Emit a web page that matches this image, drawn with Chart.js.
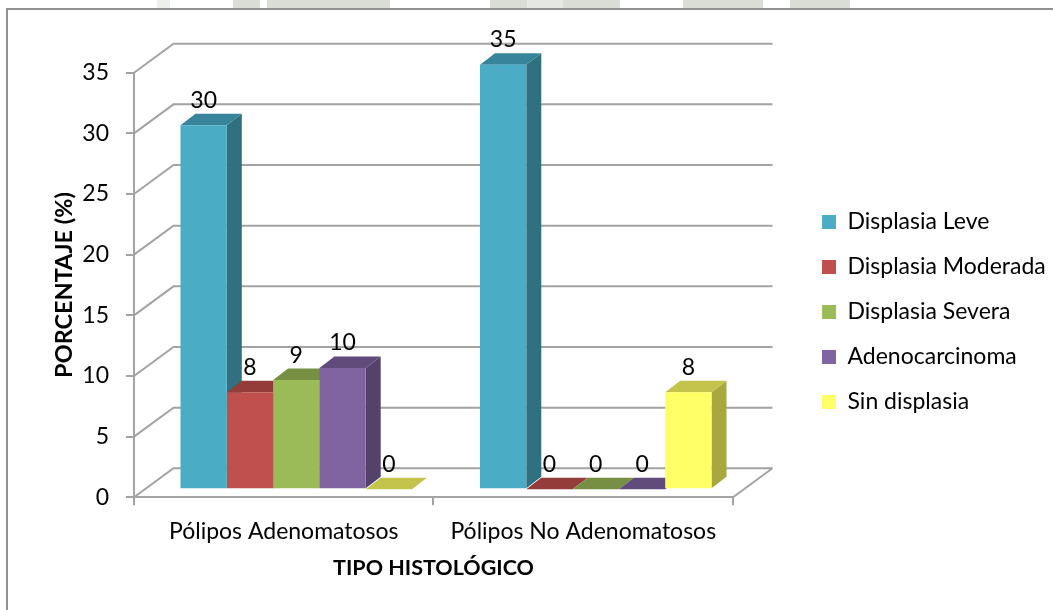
<!DOCTYPE html>
<html>
<head>
<meta charset="utf-8">
<script src="https://cdn.jsdelivr.net/npm/chart.js@4"></script>
<style>
  html, body { margin: 0; background: #fff; }
  #wrap { position: relative; width: 1053px; height: 610px; overflow: hidden; }
  #franja { position: absolute; left: 0; top: 0; width: 1053px; height: 8px;
    background: linear-gradient(90deg, #fff 157px, #eef0ec 157px, #eef0ec 170px, #fff 170px,
      #fff 233px, #d9ddd5 233px, #d9ddd5 260px, #fff 260px, #fff 267px, #d9ddd5 267px, #d9ddd5 390px, #fff 390px,
      #fff 490px, #d9ddd5 490px, #d9ddd5 527px, #e6e9e3 527px, #e6e9e3 563px, #d9ddd5 563px, #d9ddd5 620px, #fff 620px,
      #fff 683px, #d9ddd5 683px, #d9ddd5 763px, #fff 763px, #fff 790px, #d9ddd5 790px, #d9ddd5 850px, #fff 850px); }
  #marco { position: absolute; left: 6px; top: 8px; width: 1047px; height: 602px;
    border-left: 2px solid #929292; border-top: 2px solid #929292; box-sizing: border-box; }
  #chart-grafico-1 { position: absolute; left: 0; top: 0; }
</style>
</head>
<body>
<div id="wrap">
  <div id="franja"></div>
  <div id="marco"></div>
  <canvas id="chart-grafico-1" width="1053" height="610"></canvas>
</div>
<script>
const categorias = ['Pólipos Adenomatosos', 'Pólipos No Adenomatosos'];
const leve = [30, 35];
const moderada = [8, 0];
const severa = [9, 0];
const adenocarcinoma = [10, 0];
const sinDisplasia = [0, 8];

const gris = '#a3a3a3';
const fuente = 'Lato, "Open Sans", sans-serif';

// desplazamientos de la perspectiva, en pixeles
const fondo = { x: 39.5, y: -29 };
const frente = { x: 12.5, y: -8 };
const prof = { x: 15, y: -11.5 };

const serie = (label, data, color, tapa, lado) => ({
  label, data,
  backgroundColor: color,
  tapa, lado,
  borderWidth: 0,
  clip: false,
});

// dibuja paredes y piso por detras de las barras
const paredes = {
  id: 'paredes',
  beforeDatasetsDraw(chart) {
    const { ctx, chartArea: a, scales: { y } } = chart;
    ctx.save();
    ctx.strokeStyle = gris;
    ctx.lineWidth = 2;
    ctx.beginPath();
    y.ticks.forEach(t => {
      const py = y.getPixelForValue(t.value);
      ctx.moveTo(a.left, py);
      ctx.lineTo(a.left + fondo.x, py + fondo.y);
      ctx.lineTo(a.right + fondo.x, py + fondo.y);
    });
    ctx.moveTo(a.right, a.bottom);
    ctx.lineTo(a.right + fondo.x, a.bottom + fondo.y);
    ctx.stroke();
    ctx.restore();
  },
};

// caras de arriba y lateral primero, de izquierda a derecha; la cara frontal la pone Chart.js
const barras3d = {
  id: 'barras3d',
  beforeDatasetsDraw(chart) {
    const { ctx } = chart;
    ctx.save();
    ctx.translate(frente.x, frente.y);
    chart.data.datasets.forEach((ds, i) => {
      chart.getDatasetMeta(i).data.forEach(bar => {
        const izq = bar.x - bar.width / 2;
        const der = bar.x + bar.width / 2;
        ctx.fillStyle = ds.lado;
        ctx.beginPath();
        ctx.moveTo(der, bar.y);
        ctx.lineTo(der + prof.x, bar.y + prof.y);
        ctx.lineTo(der + prof.x, bar.base + prof.y);
        ctx.lineTo(der, bar.base);
        ctx.fill();
        ctx.fillStyle = ds.tapa;
        ctx.beginPath();
        ctx.moveTo(izq, bar.y);
        ctx.lineTo(izq + prof.x, bar.y + prof.y);
        ctx.lineTo(der + prof.x, bar.y + prof.y);
        ctx.lineTo(der, bar.y);
        ctx.fill();
      });
    });
    ctx.restore();
  },
  beforeDatasetDraw(chart) {
    chart.ctx.save();
    chart.ctx.translate(frente.x, frente.y);
  },
  afterDatasetDraw(chart) {
    chart.ctx.restore();
  },
  afterDraw(chart) {
    const { ctx } = chart;
    ctx.save();
    ctx.fillStyle = '#000';
    ctx.font = '23px ' + fuente;
    ctx.textAlign = 'center';
    ctx.textBaseline = 'alphabetic';
    chart.data.datasets.forEach((ds, i) => {
      chart.getDatasetMeta(i).data.forEach((bar, j) => {
        ctx.fillText(ds.data[j], bar.x + frente.x, bar.y + frente.y + prof.y - 6);
      });
    });
    ctx.restore();
  },
};

// la leyenda queda separada del grafico, en su lugar fijo
const leyenda = {
  id: 'leyenda',
  afterLayout(chart) {
    const l = chart.legend;
    l.left = 800;
    l.right = 1053;
    l.top = 188.5;
    l.bottom = 610;
  },
};

new Chart(document.getElementById('chart-grafico-1'), {
  type: 'bar',
  data: {
    labels: categorias,
    datasets: [
      serie('Displasia Leve', leve, '#4bacc6', '#37849b', '#31707f'),
      serie('Displasia Moderada', moderada, '#c0504d', '#943c3a', '#7f3533'),
      serie('Displasia Severa', severa, '#9bbb59', '#768f43', '#66803a'),
      serie('Adenocarcinoma', adenocarcinoma, '#8064a2', '#614b7b', '#54426b'),
      serie('Sin displasia', sinDisplasia, '#ffff66', '#c4c44d', '#a8a83f'),
    ],
  },
  options: {
    responsive: false,
    animation: false,
    events: [],
    layout: { padding: { left: 30, top: 72.7, right: 85.67, bottom: 0 } },
    datasets: { bar: { categoryPercentage: 0.773, barPercentage: 1 } },
    scales: {
      x: {
        afterFit(s) { s.height = 112.7; },
        grid: { offset: true, drawOnChartArea: false, color: gris, lineWidth: 2, tickLength: 8 },
        border: { color: gris, width: 2 },
        ticks: { color: '#000', font: { family: fuente, size: 23 }, maxRotation: 0, padding: 12 },
        title: { display: true, text: 'TIPO HISTOLÓGICO', color: '#000', font: { family: fuente, size: 21.5, weight: 'bold' }, padding: { top: 0, bottom: 29 } },
      },
      y: {
        min: 0, max: 35,
        afterFit(s) { s.width = 104; },
        grid: { drawOnChartArea: false, color: gris, lineWidth: 2, tickLength: 8 },
        border: { color: gris, width: 2 },
        ticks: { stepSize: 5, color: '#000', font: { family: fuente, size: 23 }, padding: 17 },
        title: { display: true, text: 'PORCENTAJE (%)', color: '#000', font: { family: fuente, size: 23.5, weight: 'bold' }, padding: { top: 20, bottom: 0 } },
      },
    },
    plugins: {
      title: { display: false },
      tooltip: { enabled: false },
      legend: {
        position: 'right',
        align: 'start',
        labels: { color: '#000', font: { family: fuente, size: 23 }, boxWidth: 14, boxHeight: 14, padding: 22 },
      },
    },
  },
  plugins: [paredes, barras3d, leyenda],
});
</script>
</body>
</html>
